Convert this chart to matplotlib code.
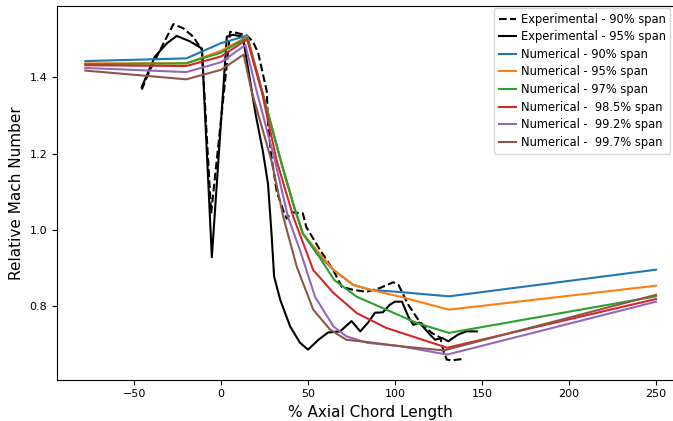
import matplotlib
matplotlib.use("Agg")
import matplotlib.pyplot as plt

# Experimental - 90% span (dashed)
exp90_x = [-45.6, -40.8, -33, -27.4, -21.7, -16, -11, -5.7, 2.3, 5.2, 9, 14.8, 18.4, 21.4,
           26.3, 27, 29, 32, 35.8, 37.7, 40.6, 47, 49, 57, 64.5, 69.4, 76, 83.7, 91.4, 99,
           102, 107.6, 114, 121, 126, 127.6, 129.7, 132.6, 140]
exp90_y = [1.368, 1.42, 1.49, 1.54, 1.529, 1.507, 1.472, 1.043, 1.39, 1.52, 1.517, 1.51, 1.494, 1.463,
           1.363, 1.277, 1.19, 1.10, 1.05, 1.029, 1.046, 1.043, 1.007, 0.946, 0.894, 0.85, 0.842, 0.837, 0.847, 0.862,
           0.855, 0.803, 0.759, 0.729, 0.717, 0.685, 0.659, 0.657, 0.661]

# Experimental - 95% span (solid black)
exp95_x = [-45.6, -38, -31, -25.5, -18, -11, -5.3, 3.3, 7, 12.5, 20, 24, 27, 29, 30.5, 34,
           39.7, 45.4, 50, 56, 61.5, 68.4, 75, 80, 84.5, 88.5, 93, 97, 100, 104, 107.6, 110.5,
           114, 120, 123, 127, 130.6, 136.4, 141, 147]
exp95_y = [1.375, 1.455, 1.49, 1.509, 1.495, 1.476, 0.928, 1.507, 1.512, 1.507, 1.30, 1.207, 1.12, 0.99, 0.877, 0.816,
           0.746, 0.703, 0.685, 0.711, 0.73, 0.733, 0.76, 0.733, 0.756, 0.782, 0.783, 0.803, 0.811, 0.811, 0.772, 0.75,
           0.756, 0.725, 0.711, 0.716, 0.707, 0.725, 0.733, 0.733]

# Numerical - 90% span
num90_x = [-78, -20, 0, 15, 25, 35, 42, 47, 55, 65, 76, 86, 101, 131, 250]
num90_y = [1.443, 1.45, 1.49, 1.51, 1.34, 1.17, 1.06, 0.99, 0.938, 0.893, 0.855, 0.842, 0.837, 0.825, 0.895]

# Numerical - 95% span
num95_x = [-78, -20, 0, 15, 25, 35, 42, 47, 57, 65, 76, 86, 103, 131, 250]
num95_y = [1.437, 1.437, 1.47, 1.507, 1.34, 1.17, 1.06, 0.99, 0.935, 0.893, 0.855, 0.842, 0.824, 0.79, 0.853]

# Numerical - 97% span
num97_x = [-78, -20, 0, 15, 25, 35, 42, 47, 54, 65, 78, 95, 112.5, 131, 250]
num97_y = [1.435, 1.437, 1.465, 1.505, 1.34, 1.17, 1.06, 0.99, 0.946, 0.868, 0.824, 0.79, 0.755, 0.729, 0.825]

# Numerical - 98.5% span
num985_x = [-78, -20, 0, 15, 23.4, 32, 41.6, 53, 64.6, 78, 95, 112.5, 130, 250]
num985_y = [1.432, 1.43, 1.455, 1.50, 1.363, 1.181, 1.033, 0.894, 0.834, 0.781, 0.742, 0.716, 0.69, 0.818]

# Numerical - 99.2% span
num992_x = [-78, -20, 0, 14, 20.5, 31, 38.5, 45.4, 54, 64.6, 72, 84, 103, 130, 250]
num992_y = [1.425, 1.414, 1.44, 1.485, 1.363, 1.181, 1.033, 0.946, 0.824, 0.746, 0.72, 0.703, 0.694, 0.672, 0.811]

# Numerical - 99.7% span
num997_x = [-78, -20, 0, 13, 17.6, 29, 35.8, 43.5, 53, 62.6, 72, 84, 103, 128, 250]
num997_y = [1.418, 1.395, 1.42, 1.46, 1.363, 1.181, 1.033, 0.903, 0.79, 0.738, 0.711, 0.705, 0.694, 0.683, 0.829]

fig = plt.figure(figsize=(6.73, 4.21), dpi=100)
ax = fig.add_axes([57/673, 1-379.5/421, (684-57)/673, (379.5-6)/421])

ax.plot(exp90_x, exp90_y, 'k--', lw=1.5, label='Experimental - 90% span')
ax.plot(exp95_x, exp95_y, 'k-', lw=1.5, label='Experimental - 95% span')
ax.plot(num90_x, num90_y, color='#1f77b4', lw=1.5, label='Numerical - 90% span')
ax.plot(num95_x, num95_y, color='#ff7f0e', lw=1.5, label='Numerical - 95% span')
ax.plot(num97_x, num97_y, color='#2ca02c', lw=1.5, label='Numerical - 97% span')
ax.plot(num985_x, num985_y, color='#d62728', lw=1.5, label='Numerical -  98.5% span')
ax.plot(num992_x, num992_y, color='#9467bd', lw=1.5, label='Numerical -  99.2% span')
ax.plot(num997_x, num997_y, color='#8c564b', lw=1.5, label='Numerical -  99.7% span')

ax.set_xlim(-94.3, 266.1)
ax.set_ylim(0.6066, 1.5876)
ax.set_xticks([-50, 0, 50, 100, 150, 200, 250])
ax.set_yticks([0.8, 1.0, 1.2, 1.4])
ax.tick_params(labelsize=8)
ax.set_xlabel('% Axial Chord Length', fontsize=11)
ax.set_ylabel('Relative Mach Number', fontsize=11)

fig.legend(loc='upper left', bbox_to_anchor=(494/673, 1-8/421), fontsize=8.3,
           borderaxespad=0, labelspacing=0.4, handlelength=1.5, handletextpad=0.4)

fig.savefig('out.png', dpi=100)
